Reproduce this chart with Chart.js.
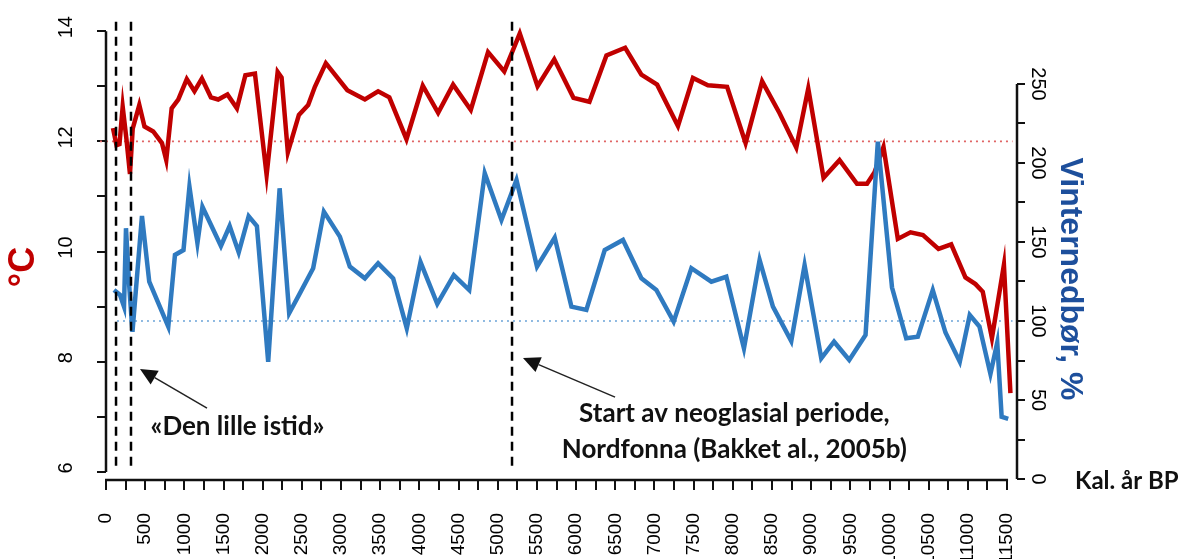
<!DOCTYPE html>
<html>
<head>
<meta charset="utf-8">
<script src="https://cdn.jsdelivr.net/npm/chart.js@4.4.1/dist/chart.umd.min.js"></script>
<style>
  html, body { margin: 0; padding: 0; background: #fff; overflow: hidden; }
  #wrap { width: 1182px; height: 559px; }
</style>
</head>
<body>
<div id="wrap"><canvas id="klima" width="1182" height="559"></canvas></div>
<script>
// Sommertemperatur, °C (kal. år BP)
const tempYears = [89, 134, 172, 213, 261, 306, 341, 425, 491, 603, 714, 769, 838, 922, 1031, 1129, 1224, 1339, 1432, 1550,
  1671, 1779, 1901, 2050, 2191, 2241, 2321, 2462, 2580, 2666, 2806, 3080, 3304, 3473, 3616, 3835, 4043, 4239, 4430, 4656,
  4876, 5083, 5281, 5508, 5721, 5966, 6170, 6387, 6626, 6833, 7034, 7300, 7491, 7682, 7927, 8163, 8374, 8597, 8810, 8963,
  9158, 9362, 9585, 9713, 9809, 9923, 10106, 10268, 10427, 10625, 10787, 10969, 11097, 11190, 11307, 11460, 11543];
const tempValues = [12.24, 11.93, 11.95, 12.63, 12.04, 11.41, 12.23, 12.66, 12.27, 12.18, 11.97, 11.66, 12.60, 12.76, 13.13, 12.91, 13.14, 12.80, 12.76, 12.85,
  12.60, 13.20, 13.23, 11.39, 13.26, 13.16, 11.80, 12.48, 12.66, 12.99, 13.42, 12.93, 12.76, 12.91, 12.80, 12.04, 13.01, 12.52, 13.03, 12.57,
  13.62, 13.27, 13.96, 13.00, 13.49, 12.79, 12.72, 13.56, 13.70, 13.21, 13.03, 12.28, 13.15, 13.02, 12.99, 11.97, 13.09, 12.51, 11.89, 12.96,
  11.34, 11.66, 11.23, 11.23, 11.44, 11.90, 10.23, 10.35, 10.30, 10.05, 10.13, 9.53, 9.41, 9.27, 8.43, 9.76, 7.43];

// Vinternedbør, % (kal. år BP)
const precipYears = [102, 179, 230, 255, 297, 338, 459, 552, 795, 880, 989, 1065, 1167, 1231, 1467, 1578, 1694, 1821, 1926, 2070,
  2216, 2338, 2474, 2644, 2781, 2985, 3112, 3304, 3473, 3665, 3839, 4014, 4228, 4439, 4636, 4834, 5047, 5239, 5501, 5727,
  5940, 6131, 6365, 6598, 6833, 7024, 7245, 7471, 7726, 7917, 8142, 8342, 8512, 8746, 8916, 9129, 9292, 9486, 9694, 9851,
  10032, 10213, 10361, 10552, 10714, 10897, 11024, 11148, 11288, 11375, 11431, 11515];
const precipValues = [119.6, 116.5, 109.1, 158.7, 121.7, 93.2, 166.5, 124.9, 96.4, 141.8, 144.9, 185.0, 149.4, 172.3, 147.5, 160.1, 143.4, 166.3, 160.1, 74.2,
  184.0, 104.9, 117.5, 133.4, 169.2, 153.4, 134.4, 127.0, 136.5, 127.0, 95.4, 137.3, 110.8, 129.1, 119.6, 193.5, 163.9, 189.2, 134.4, 152.8,
  109.1, 107.0, 144.9, 151.3, 127.0, 119.6, 99.6, 133.4, 124.9, 128.0, 82.7, 138.6, 109.1, 87.3, 135.4, 76.4, 86.9, 75.3, 91.1, 213.5,
  121.2, 89.1, 90.1, 119.6, 92.7, 74.2, 103.8, 96.5, 66.5, 86.4, 39.4, 38.1];

// Aksemerker
const xLabelTicks = [0, 500, 1000, 1500, 2000, 2500, 3000, 3500, 4000, 4500, 5000, 5500,
  6000, 6500, 7000, 7500, 8000, 8500, 9000, 9500, 10000, 10500, 11000, 11500];
const tempLabelTicks = [6, 8, 10, 12, 14];
const precipLabelTicks = [0, 50, 100, 150, 200, 250];

// Referansenivåer og periodegrenser
const tempRef = 12;
const precipRef = 100;
const markerYears = [128, 319, 5182];

const toPoints = (xs, ys) => xs.map((x, i) => ({ x, y: ys[i] }));

// ticks at each label plus one unlabelled tick half way to the next
const withMinor = (labels) => labels.flatMap((v, i) =>
  i < labels.length - 1 ? [{ value: v }, { value: (v + labels[i + 1]) / 2 }] : [{ value: v }]);

const tickMarks = (len) => ({ drawOnChartArea: false, drawTicks: true, tickLength: len, color: '#111', lineWidth: 2 });

const fixSize = (prop, size) => (scale) => {
  scale[prop] = size;
  scale.paddingTop = scale.paddingBottom = scale.paddingLeft = scale.paddingRight = 0;
};

const tickFont = { family: '"Liberation Sans", Arial, sans-serif', size: 20 };

function arrow(ctx, x0, y0, x1, y1) {
  const a = Math.atan2(y1 - y0, x1 - x0);
  const head = 17, half = 8;
  const bx = x1 - head * Math.cos(a), by = y1 - head * Math.sin(a);
  ctx.beginPath();
  ctx.moveTo(x0, y0);
  ctx.lineTo(bx, by);
  ctx.stroke();
  ctx.beginPath();
  ctx.moveTo(x1, y1);
  ctx.lineTo(bx + half * Math.sin(a), by - half * Math.cos(a));
  ctx.lineTo(bx - half * Math.sin(a), by + half * Math.cos(a));
  ctx.closePath();
  ctx.fill();
}

const notes = {
  id: 'notes',
  afterDraw(chart) {
    const { ctx, chartArea, scales: { x, y, y1 } } = chart;
    ctx.save();

    // axis lines only over the labelled ranges
    ctx.strokeStyle = '#111';
    ctx.lineWidth = 2.5;
    ctx.beginPath();
    ctx.moveTo(chartArea.left, y.getPixelForValue(14));
    ctx.lineTo(chartArea.left, y.getPixelForValue(6));
    ctx.moveTo(x.getPixelForValue(0) - 1, chartArea.bottom);
    ctx.lineTo(x.getPixelForValue(11500) + 1, chartArea.bottom);
    ctx.moveTo(chartArea.right, y1.getPixelForValue(250));
    ctx.lineTo(chartArea.right, y1.getPixelForValue(0));
    ctx.stroke();

    // axis titles
    ctx.textAlign = 'center';
    ctx.textBaseline = 'middle';
    ctx.save();
    ctx.translate(24, 267);
    ctx.rotate(-Math.PI / 2);
    ctx.fillStyle = '#c00000';
    ctx.font = 'bold 36px "Liberation Sans", Arial, sans-serif';
    ctx.fillText('°C', 0, 0);
    ctx.restore();

    ctx.save();
    ctx.translate(1070, 279);
    ctx.rotate(Math.PI / 2);
    ctx.fillStyle = '#1d4f9c';
    ctx.font = 'bold 32px "Liberation Sans", Arial, sans-serif';
    ctx.fillText('Vinternedbør, %', 0, 0);
    ctx.restore();

    ctx.fillStyle = '#111';
    ctx.font = 'bold 24px Lato, sans-serif';
    ctx.textAlign = 'left';
    ctx.fillText('Kal. år BP', 1075, chartArea.bottom + 1);

    // notes with arrows pointing at the period limits
    ctx.font = 'bold 26px Lato, sans-serif';
    ctx.textAlign = 'center';
    ctx.fillText('«Den lille istid»', x.getPixelForValue(1678), y.getPixelForValue(6.83));
    ctx.fillText('Start av neoglasial periode,', x.getPixelForValue(8020), y.getPixelForValue(7.06));
    ctx.fillText('Nordfonna (Bakket al., 2005b)', x.getPixelForValue(8020), y.getPixelForValue(6.40));

    ctx.strokeStyle = '#222';
    ctx.lineWidth = 1.5;
    arrow(ctx, x.getPixelForValue(1289), y.getPixelForValue(7.16), x.getPixelForValue(434), y.getPixelForValue(7.87));
    arrow(ctx, x.getPixelForValue(6497), y.getPixelForValue(7.36), x.getPixelForValue(5322), y.getPixelForValue(8.07));

    ctx.restore();
  }
};

const markerSets = markerYears.map((yr) => ({
  data: [{ x: yr, y: 14.17 }, { x: yr, y: 6.09 }],
  yAxisID: 'y',
  borderColor: '#000',
  borderWidth: 2.5,
  borderDash: [9, 6],
  pointRadius: 0,
  clip: false
}));

new Chart(document.getElementById('klima'), {
  type: 'line',
  data: {
    datasets: [
      ...markerSets,
      {
        label: 'Vinternedbør',
        data: toPoints(precipYears, precipValues),
        yAxisID: 'y1',
        borderColor: '#2f7ac0',
        borderWidth: 4.5,
        borderJoinStyle: 'miter',
        pointRadius: 0,
        clip: false
      },
      {
        label: 'Temperatur',
        data: toPoints(tempYears, tempValues),
        yAxisID: 'y',
        borderColor: '#c00000',
        borderWidth: 4.5,
        borderJoinStyle: 'miter',
        pointRadius: 0,
        clip: false
      },
      {
        data: [{ x: -77, y: tempRef }, { x: 11570, y: tempRef }],
        yAxisID: 'y',
        borderColor: '#e06464',
        borderWidth: 1.6,
        borderDash: [2, 4],
        pointRadius: 0,
        clip: false
      },
      {
        data: [{ x: 140, y: precipRef }, { x: 11570, y: precipRef }],
        yAxisID: 'y1',
        borderColor: '#6aa3d8',
        borderWidth: 1.6,
        borderDash: [2, 4],
        pointRadius: 0,
        clip: false
      }
    ]
  },
  options: {
    responsive: false,
    animation: false,
    devicePixelRatio: 1,
    layout: { padding: { top: 20, left: 0, right: 0, bottom: 0 } },
    plugins: {
      legend: { display: false },
      tooltip: { enabled: false }
    },
    scales: {
      x: {
        type: 'linear',
        position: 'bottom',
        min: 0,
        max: 11627,
        border: { display: false },
        grid: tickMarks(10),
        afterBuildTicks: (scale) => { scale.ticks = withMinor(xLabelTicks); },
        afterFit: fixSize('height', 79),
        ticks: {
          autoSkip: false,
          minRotation: 90,
          maxRotation: 90,
          padding: 23,
          color: '#000',
          font: { ...tickFont, size: 19 },
          callback: (v) => (xLabelTicks.includes(v) ? String(v) : '')
        }
      },
      y: {
        type: 'linear',
        position: 'left',
        min: 5.855,
        max: 14.203,
        border: { display: false },
        grid: tickMarks(9),
        afterBuildTicks: (scale) => { scale.ticks = withMinor(tempLabelTicks); },
        afterFit: fixSize('width', 106),
        ticks: {
          autoSkip: false,
          minRotation: 90,
          maxRotation: 90,
          crossAlign: 'center',
          padding: 19,
          labelOffset: -4,
          color: '#000',
          font: tickFont,
          callback: (v) => (tempLabelTicks.includes(v) ? String(v) : '')
        }
      },
      y1: {
        type: 'linear',
        position: 'right',
        min: -0.63,
        max: 290.5,
        border: { display: false },
        grid: tickMarks(8),
        afterBuildTicks: (scale) => { scale.ticks = withMinor(precipLabelTicks); },
        afterFit: fixSize('width', 165),
        ticks: {
          autoSkip: false,
          minRotation: -90,
          maxRotation: -90,
          crossAlign: 'center',
          padding: -4,
          color: '#000',
          font: tickFont,
          callback: (v) => (precipLabelTicks.includes(v) ? String(v) : '')
        }
      }
    }
  },
  plugins: [notes]
});
</script>
</body>
</html>
